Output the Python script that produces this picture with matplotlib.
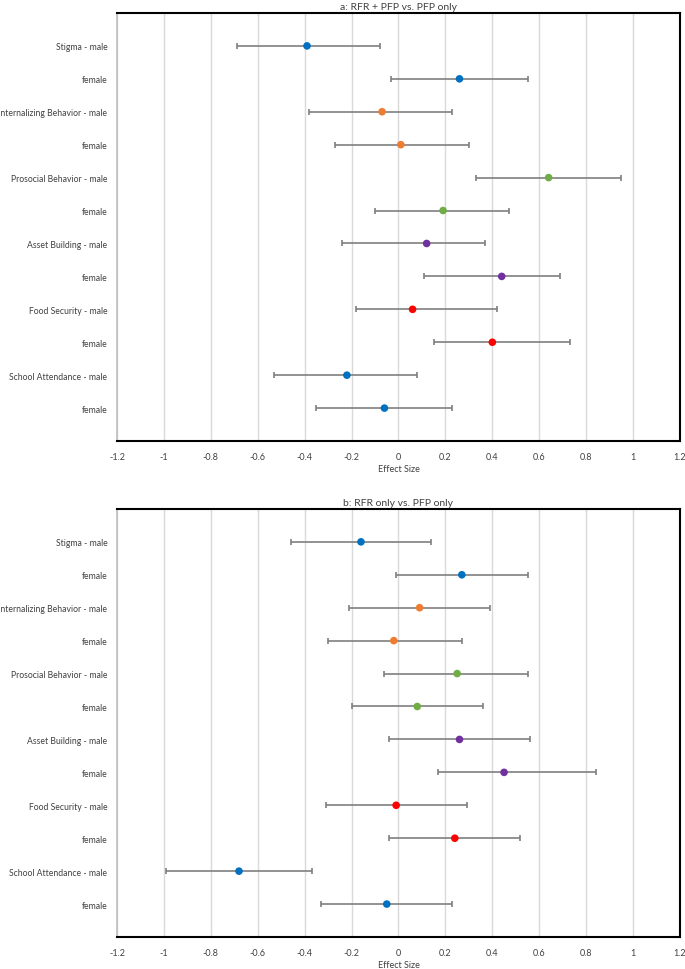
import matplotlib

matplotlib.use("Agg")
import matplotlib.pyplot as plt
import numpy as np

plt.rcParams["font.family"] = ["Lato", "DejaVu Sans"]

labels = [
    "Stigma - male", "female",
    "Internalizing Behavior - male", "female",
    "Prosocial Behavior - male", "female",
    "Asset Building - male", "female",
    "Food Security - male", "female",
    "School Attendance - male", "female",
]
point_colors = [
    "#0070C0", "#0070C0",
    "#ED7D31", "#ED7D31",
    "#70AD47", "#70AD47",
    "#7030A0", "#7030A0",
    "#FF0000", "#FF0000",
    "#0070C0", "#0070C0",
]

# panel a: RFR + PFP vs. PFP only
a_est = [-0.39, 0.26, -0.07, 0.01, 0.64, 0.19, 0.12, 0.44, 0.06, 0.40, -0.22, -0.06]
a_lo = [-0.69, -0.03, -0.38, -0.27, 0.33, -0.10, -0.24, 0.11, -0.18, 0.15, -0.53, -0.35]
a_hi = [-0.08, 0.55, 0.23, 0.30, 0.95, 0.47, 0.37, 0.69, 0.42, 0.73, 0.08, 0.23]

# panel b: RFR only vs. PFP only
b_est = [-0.16, 0.27, 0.09, -0.02, 0.25, 0.08, 0.26, 0.45, -0.01, 0.24, -0.68, -0.05]
b_lo = [-0.46, -0.01, -0.21, -0.30, -0.06, -0.20, -0.04, 0.17, -0.31, -0.04, -0.99, -0.33]
b_hi = [0.14, 0.55, 0.39, 0.27, 0.55, 0.36, 0.56, 0.84, 0.29, 0.52, -0.37, 0.23]

xticks = [-1.2, -1, -0.8, -0.6, -0.4, -0.2, 0, 0.2, 0.4, 0.6, 0.8, 1, 1.2]


def panel(ax, title, est, lo, hi):
    est = np.array(est)
    lo = np.array(lo)
    hi = np.array(hi)
    y = np.arange(1, len(labels) + 1)
    ax.errorbar(est, y, xerr=[est - lo, hi - est], fmt="none",
                ecolor="#7F7F7F", elinewidth=1.2, capsize=2.5, capthick=1.2, zorder=2)
    ax.scatter(est, y, s=30, c=point_colors, zorder=3, linewidths=0)
    ax.set_xlim(-1.2, 1.2)
    ax.set_ylim(len(labels) + 1, 0)
    ax.set_xticks(xticks)
    ax.set_xticklabels([f"{t:g}" for t in xticks])
    ax.set_yticks(y)
    ax.set_yticklabels(labels)
    ax.grid(axis="x", color="#D9D9D9", linewidth=1)
    ax.set_axisbelow(True)
    ax.tick_params(length=0, labelsize=6.5, colors="#404040")
    ax.tick_params(axis="y", pad=7, labelsize=6.2)
    ax.tick_params(axis="x", pad=8)
    for side in ("top", "right", "bottom"):
        ax.spines[side].set_color("black")
        ax.spines[side].set_linewidth(1.5)
    ax.spines["left"].set_color("#BFBFBF")
    ax.spines["left"].set_linewidth(1.2)
    ax.set_title(title, fontsize=7.5, color="#404040", pad=3)
    ax.set_xlabel("Effect Size", fontsize=6.5, color="#404040", labelpad=2)


fig = plt.figure(figsize=(6.85, 9.70), dpi=100)
ax_a = fig.add_axes([0.1708, 0.5443, 0.8219, 0.4413])
ax_b = fig.add_axes([0.1708, 0.0330, 0.8219, 0.4413])
panel(ax_a, "a: RFR + PFP vs. PFP only", a_est, a_lo, a_hi)
panel(ax_b, "b: RFR only vs. PFP only", b_est, b_lo, b_hi)

fig.savefig("out.png", facecolor="white")
plt.close(fig)
